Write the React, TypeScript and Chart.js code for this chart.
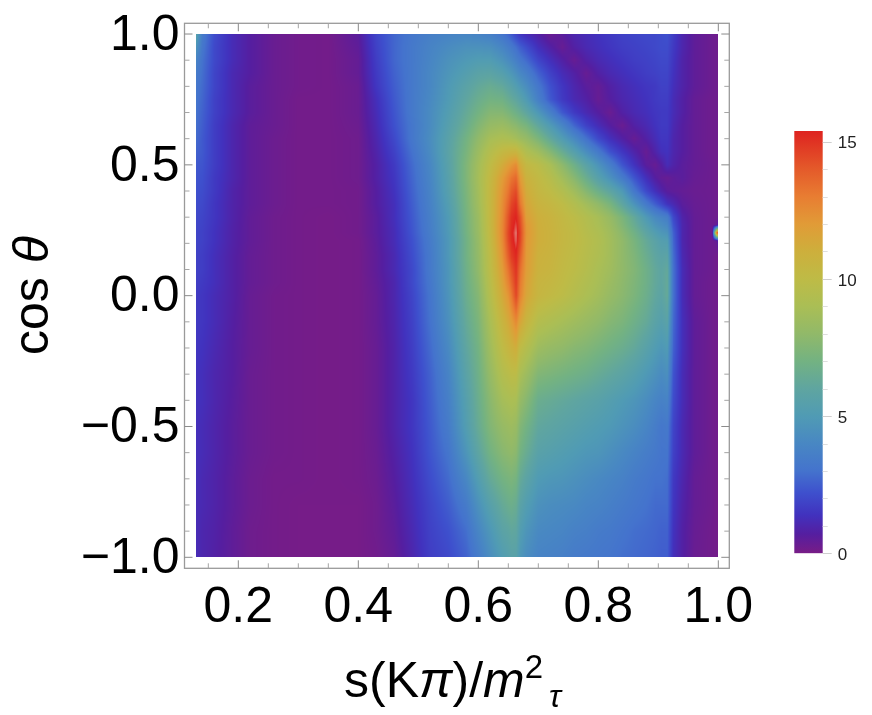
import React, { useEffect, useRef } from "react";
import { Chart, registerables } from "chart.js";

Chart.register(...registerables);

const SANS = '"Liberation Sans", Arial, sans-serif';

const sValues = [
  0.13, 0.14, 0.16, 0.19, 0.22, 0.26, 0.3, 0.35, 0.4,
  0.43, 0.46, 0.49, 0.52, 0.55, 0.58, 0.6, 0.62, 0.64, 0.65, 0.655, 0.663, 0.67, 0.68,
  0.7, 0.72, 0.74, 0.76, 0.78, 0.8, 0.82, 0.84, 0.86, 0.88, 0.895,
  0.905, 0.915, 0.925, 0.94, 0.96, 0.99, 0.997, 1.0,
];
const cosValues = [
  1, 0.95, 0.9, 0.85, 0.8, 0.75, 0.7, 0.65, 0.6, 0.55, 0.5, 0.45, 0.4, 0.35, 0.3, 0.27, 0.24, 0.21, 0.15, 0.1, 0.05, 0,
  -0.1, -0.2, -0.3, -0.4, -0.5, -0.6, -0.7, -0.8, -0.9, -1,
];
const intensityRows = [
  [5.5,3.4,2.1,1.2,.7,.3,.15,.1,.6, 1.9,2.7,3.2,3.6,3.8,3.9,3.8,3.6,3.1,2.7,2.4,1.9,1.5,1.2, .8,.3,.6,1,1.2,1.4,1.6,1.8,1.9,2,2, 2.1,2.2,1.7,1,.5,.25,.2,.2],
  [4.6,3.2,2,1.2,.7,.3,.15,.1,.5, 1.8,2.7,3.3,3.8,4.2,4.5,4.5,4.4,3.9,3.5,3.3,2.9,2.5,2.1, 1.3,.8,.35,.8,1.1,1.3,1.5,1.7,1.8,1.9,2, 2.1,2.1,1.6,1,.5,.25,.2,.2],
  [3.8,3,2,1.2,.7,.3,.15,.1,.4, 1.7,2.7,3.3,3.9,4.5,4.9,5.1,5.1,4.6,4.2,4,3.6,3.2,2.8, 1.9,1.3,.8,.35,.8,1.1,1.3,1.5,1.7,1.8,1.9, 2,2,1.5,.9,.5,.25,.2,.2],
  [3.4,2.9,1.9,1.1,.7,.3,.15,.1,.4, 1.6,2.6,3.3,4,4.7,5.3,5.7,5.8,5.4,5,4.8,4.4,4,3.6, 2.6,1.8,1.2,.8,.35,.8,1.1,1.3,1.5,1.7,1.8, 1.9,1.9,1.4,.9,.5,.25,.2,.2],
  [3.2,2.8,1.9,1.1,.6,.3,.15,.1,.3, 1.5,2.5,3.3,4,4.9,5.7,6.2,6.5,6.2,5.8,5.6,5.2,4.8,4.3, 3.2,2.2,1.5,1,.6,.4,.8,1.1,1.3,1.5,1.6, 1.8,1.8,1.3,.9,.5,.25,.2,.2],
  [3.1,2.7,1.8,1.1,.6,.3,.1,.1,.3, 1.3,2.4,3.3,4.1,5,6,6.6,7,6.9,6.5,6.3,6,5.6,5, 3.6,2.4,1.6,1.1,.8,.35,.7,1,1.2,1.4,1.6, 1.7,1.7,1.2,.8,.4,.2,.2,.2],
  [3,2.6,1.8,1.1,.6,.3,.1,.1,.3, 1.2,2.3,3.3,4.2,5.2,6.3,7,7.6,7.6,7.3,7.1,6.8,6.5,6, 4.8,3.6,2.4,1.6,1.1,.7,.3,.8,1.1,1.3,1.5, 1.6,1.6,1.2,.8,.4,.2,.2,.2],
  [2.9,2.5,1.7,1,.5,.3,.1,.1,.25, 1.1,2.2,3.2,4.2,5.4,6.6,7.5,8.2,8.4,8.2,8,7.8,7.5,7.2, 6.1,5,3.9,2.7,1.8,1.2,.7,.3,.8,1.1,1.4, 1.6,1.6,1.1,.7,.4,.2,.2,.2],
  [2.8,2.4,1.7,1,.5,.25,.1,.1,.2, 1,2,3.2,4.3,5.6,7,8,8.9,9.2,9.1,9,8.8,8.5,8.2, 7.3,6.2,5.1,4.1,3,2,1.3,.8,.35,.8,1.2, 1.5,1.5,1,.7,.4,.2,.2,.2],
  [2.6,2.4,1.7,1,.5,.25,.1,.1,.2, .9,1.8,3,4.2,5.7,7.2,8.4,9.5,10.3,10.5,10.6,10.6,10,9.3, 8.6,7.6,6.5,5.4,4.3,3.3,2.2,1.5,.9,.35,.9, 1.3,1.4,1,.7,.4,.2,.2,.2],
  [2.4,2.3,1.7,1,.5,.25,.1,.1,.2, .8,1.6,2.8,4,5.6,7.4,8.7,10,11.2,11.8,12.1,12.5,11.2,10.3, 9.8,9,7.9,6.8,5.7,4.6,3.5,2.3,1.4,.6,.35, .7,1.2,.9,.6,.4,.25,.2,.2],
  [2.3,2.2,1.6,1,.5,.25,.1,.1,.2, .8,1.5,2.7,3.9,5.5,7.4,8.8,10.3,11.9,12.7,13.2,13.6,12,10.8, 10.2,9.6,8.7,7.7,6.6,5.5,4.5,3.4,2.3,1.3,.7, .45,.35,.5,.6,.35,.25,.2,.2],
  [2.2,2.1,1.6,.9,.5,.25,.1,.1,.15, .7,1.4,2.6,3.8,5.4,7.3,8.7,10.4,12.2,13.2,13.9,14.4,12.6,11.2, 10.4,10,9.4,8.6,7.6,6.7,5.9,4.9,3.2,2,1.3, .9,.6,.5,.4,.3,.25,.2,.2],
  [2.1,2,1.5,.9,.5,.25,.1,.1,.15, .7,1.3,2.5,3.7,5.2,7.2,8.6,10.4,12.4,13.7,14.5,15,13.2,11.5, 10.7,10.4,10,9.4,8.7,8,7.2,6,4.6,3.3,2.5, 2,1.4,1.1,.6,.35,.25,.2,.2],
  [2,1.9,1.5,.9,.45,.2,.1,.05,.15, .6,1.3,2.4,3.6,5,7.1,8.4,10.4,12.5,14.2,15,15.4,14.2,11.8, 11,10.7,10.3,9.9,9.4,8.9,8.2,7.3,6.2,4.9,4.1, 3.8,3.5,2,.9,.4,.25,.2,.3],
  [1.95,1.85,1.45,.87,.45,.2,.1,.05,.15, .6,1.25,2.35,3.55,4.95,7.05,8.35,10.35,12.6,14.3,15.1,15.6,14.4,12.1, 11.05,10.75,10.35,10,9.5,9,8.4,7.5,6.5,5.4,4.6, 4.3,4,2.3,1,.4,.25,.4,1],
  [1.9,1.8,1.4,.85,.45,.2,.1,.05,.15, .6,1.2,2.3,3.5,4.9,7,8.3,10.3,12.6,14.5,15.2,15.8,14.6,12.2, 11.1,10.8,10.4,10.1,9.6,9.2,8.6,7.8,6.9,5.9,5.2, 4.8,4.6,2.6,1,.4,.25,13,15],
  [1.9,1.8,1.4,.85,.45,.2,.1,.05,.1, .55,1.2,2.2,3.4,4.8,6.9,8.2,10.2,12.5,14.4,15.1,15.7,14.5,12.1, 11.1,10.8,10.4,10.1,9.7,9.3,8.7,8,7.2,6.3,5.7, 5.3,5.2,2.7,1,.4,.25,.4,1],
  [1.8,1.7,1.3,.8,.4,.2,.1,.05,.1, .5,1.1,2.1,3.3,4.8,6.9,8.1,10,12.2,13.9,14.7,15.3,13.9,12, 10.9,10.7,10.3,10,9.6,9.2,8.7,8,7.4,6.6,6, 5.7,5.8,2.9,1.1,.4,.25,.15,.15],
  [1.8,1.7,1.3,.8,.4,.2,.1,.05,.1, .5,1.1,2,3.3,4.7,6.8,8,9.9,11.9,13.3,14.1,15,13.4,11.9, 10.8,10.6,10.2,9.9,9.5,9,8.6,8,7.5,6.8,6.2, 5.9,6.2,3,1.2,.4,.25,.15,.15],
  [1.7,1.6,1.3,.8,.4,.2,.1,.05,.1, .45,1,2,3.2,4.7,6.7,7.8,9.7,11.6,12.8,13.6,14.8,13.1,11.7, 10.6,10.4,10.1,9.7,9.3,8.9,8.4,7.9,7.4,6.8,6.2, 5.9,6.3,3,1.2,.4,.2,.15,.15],
  [1.6,1.5,1.2,.8,.35,.15,.1,.05,.1, .4,1,1.9,3.1,4.6,6.6,7.6,9.5,11.3,12.2,13,14.5,12.8,11.5, 10.5,10.2,9.9,9.5,9.1,8.7,8.2,7.8,7.3,6.7,6.1, 5.8,6.3,3,1.2,.4,.2,.15,.15],
  [1.6,1.5,1.2,.75,.35,.15,.1,.05,.1, .4,.95,1.8,3,4.4,6.3,7.3,9,10.6,11.3,11.8,12.6,11.5,10.6, 9.5,9.2,8.9,8.6,8.3,8,7.6,7.3,6.8,6.3,5.7, 5.4,5.7,2.8,1.3,.5,.2,.15,.15],
  [1.5,1.4,1.1,.7,.35,.15,.1,.05,.1, .35,.9,1.7,2.8,4.1,6,7,8.6,10,10.5,10.8,11.1,10,9.5, 8.5,8.2,8,7.7,7.5,7.2,6.9,6.6,6.2,5.6,5.1, 4.8,5,2.6,1.3,.5,.2,.15,.15],
  [1.4,1.3,1,.7,.3,.15,.1,.05,.1, .35,.9,1.6,2.6,3.8,5.7,6.8,8.2,9.4,9.7,9.9,9.9,9,8.5, 7.5,7.3,7.1,6.9,6.7,6.4,6.1,5.8,5.4,4.9,4.5, 4.2,4.4,2.3,1.2,.5,.2,.15,.15],
  [1.4,1.3,1,.65,.3,.15,.1,.05,.1, .35,.9,1.5,2.5,3.6,5.4,6.6,7.8,8.8,9,9.1,9,8.2,7.7, 6.6,6.4,6.2,6,5.8,5.6,5.3,5,4.7,4.3,3.9, 3.7,3.8,2.1,1.2,.5,.2,.15,.15],
  [1.3,1.2,.95,.6,.3,.15,.1,.05,.1, .35,.9,1.5,2.4,3.4,5.2,6.4,7.5,8.2,8.4,8.5,8.3,7.5,7, 6.1,5.9,5.7,5.5,5.3,5.1,4.9,4.6,4.3,3.9,3.5, 3.2,3.3,1.9,1.1,.5,.2,.15,.15],
  [1.3,1.2,.95,.6,.3,.15,.1,.05,.1, .3,.8,1.4,2.3,3.1,4.7,5.9,7,7.7,7.9,8,7.8,7,6.5, 5.6,5.4,5.2,5,4.8,4.7,4.4,4.1,3.8,3.5,3.3, 3.1,3.1,1.8,1.1,.5,.2,.15,.15],
  [1.3,1.1,.9,.55,.25,.1,.1,.05,.1, .25,.7,1.3,2.1,2.8,4,5.2,6.3,7,7.2,7.3,7.1,6.3,5.8, 5,4.8,4.7,4.5,4.3,4.1,3.9,3.7,3.4,3.2,3, 3,2.9,1.6,1,.4,.2,.15,.1],
  [1.2,1.1,.9,.55,.25,.1,.05,.05,.05, .2,.6,1.2,1.9,2.5,3.4,4.5,5.5,6.3,6.6,6.7,6.5,5.7,5.2, 4.5,4.3,4.2,4.1,3.9,3.8,3.6,3.4,3.2,3,2.8, 2.8,2.8,1.5,.9,.4,.2,.1,.1],
  [1.2,1,.85,.5,.2,.1,.05,.05,.05, .2,.5,1.1,1.8,2.2,2.9,3.9,4.8,5.7,5.9,6.1,6,5.2,4.7, 4.1,4,3.9,3.7,3.6,3.4,3.3,3.1,2.9,2.8,2.7, 2.6,2.6,1.4,.8,.35,.15,.1,.1],
  [1.2,1,.8,.5,.2,.1,.05,.05,.05, .15,.4,1,1.7,2,2.6,3.4,4.3,5.1,5.4,5.6,5.6,4.8,4.3, 3.8,3.7,3.6,3.4,3.3,3.2,3.1,2.9,2.8,2.7,2.6, 2.5,2.5,1.3,.8,.3,.15,.1,.1],
];

const xTicks = [0.2, 0.4, 0.6, 0.8, 1.0];
const xMinorTicks = [0.15, 0.25, 0.3, 0.35, 0.45, 0.5, 0.55, 0.65, 0.7, 0.75, 0.85, 0.9, 0.95];
const yTicks = [-1, -0.5, 0, 0.5, 1];
const yMinorTicks = [-0.9, -0.8, -0.7, -0.6, -0.4, -0.3, -0.2, -0.1, 0.1, 0.2, 0.3, 0.4, 0.6, 0.7, 0.8, 0.9];
const barTicks = [0, 5, 10, 15];
const barMinorTicks = [1, 2, 3, 4, 6, 7, 8, 9, 11, 12, 13, 14];
const barMax = 15.39;

const colorValues = [0, 0.7, 1.4, 2.2, 3, 4, 5, 6, 7, 8, 9, 10, 11, 12, 13, 14, 15.39, 15.8];
const colorRgb = [
  [120, 28, 134], [85, 30, 160], [65, 50, 190], [62, 80, 205], [68, 115, 205], [72, 135, 195],
  [80, 155, 180], [95, 165, 160], [115, 178, 130], [145, 185, 105], [170, 190, 85], [190, 187, 70],
  [205, 175, 60], [225, 155, 55], [232, 125, 50], [228, 90, 42], [222, 35, 32], [228, 130, 120],
];

function findSegment(list: number[], v: number, descending = false): [number, number] {
  const n = list.length;
  for (let i = 0; i < n - 1; i++) {
    const a = list[i], b = list[i + 1];
    if (descending ? v >= b : v <= b) return [i, (v - a) / (b - a)];
  }
  return [n - 2, 1];
}

function colorFor(v: number): number[] {
  const [i, t0] = findSegment(colorValues, v);
  const t = Math.max(0, Math.min(1, t0));
  return colorRgb[i].map((c, k) => c + (colorRgb[i + 1][k] - c) * t);
}

const heatPlugin = {
  id: "heat",
  beforeDatasetsDraw(chart: any) {
    const { ctx, scales } = chart;
    const xs = scales.x, ys = scales.y;
    const x0 = Math.round(xs.getPixelForValue(sValues[0]));
    const x1 = Math.round(xs.getPixelForValue(sValues[sValues.length - 1]));
    const y0 = Math.round(ys.getPixelForValue(cosValues[0]));
    const y1 = Math.round(ys.getPixelForValue(cosValues[cosValues.length - 1]));
    const w = x1 - x0, h = y1 - y0;
    const img = ctx.createImageData(w, h);
    for (let py = 0; py < h; py++) {
      const [r, tr] = findSegment(cosValues, ys.getValueForPixel(y0 + py + 0.5), true);
      const rowA = intensityRows[r], rowB = intensityRows[r + 1];
      for (let px = 0; px < w; px++) {
        const [c, tc] = findSegment(sValues, xs.getValueForPixel(x0 + px + 0.5));
        const a = rowA[c] + (rowA[c + 1] - rowA[c]) * tc;
        const b = rowB[c] + (rowB[c + 1] - rowB[c]) * tc;
        const rgb = colorFor(a + (b - a) * tr);
        const o = (py * w + px) * 4;
        img.data[o] = rgb[0];
        img.data[o + 1] = rgb[1];
        img.data[o + 2] = rgb[2];
        img.data[o + 3] = 255;
      }
    }
    ctx.putImageData(img, x0, y0);
  },
};

const framePlugin = {
  id: "frame",
  afterDatasetsDraw(chart: any) {
    const { ctx, chartArea: a, scales } = chart;
    ctx.save();
    ctx.strokeStyle = "#9a9a9a";
    ctx.lineWidth = 1.3;
    ctx.strokeRect(a.left, a.top, a.right - a.left, a.bottom - a.top);
    ctx.lineWidth = 1;
    const mark = (x1: number, y1: number, x2: number, y2: number) => {
      ctx.beginPath();
      ctx.moveTo(x1, y1);
      ctx.lineTo(x2, y2);
      ctx.stroke();
    };
    const drawX = (v: number, len: number) => {
      const p = scales.x.getPixelForValue(v);
      mark(p, a.top, p, a.top + len);
      mark(p, a.bottom, p, a.bottom - len);
    };
    const drawY = (v: number, len: number) => {
      const p = scales.y.getPixelForValue(v);
      mark(a.left, p, a.left + len, p);
      mark(a.right, p, a.right - len, p);
    };
    ctx.strokeStyle = "#8a8a8a";
    xTicks.forEach((v) => drawX(v, 8));
    yTicks.forEach((v) => drawY(v, 8));
    ctx.strokeStyle = "#a5a5a5";
    xMinorTicks.forEach((v) => drawX(v, 5));
    yMinorTicks.forEach((v) => drawY(v, 5));
    ctx.restore();
  },
  afterDraw(chart: any) {
    const { ctx } = chart;
    ctx.save();
    ctx.fillStyle = "#000";
    ctx.textBaseline = "alphabetic";
    const put = (text: string, x: number, y: number, font: string) => {
      ctx.font = font;
      ctx.fillText(text, x, y);
      return x + ctx.measureText(text).width;
    };
    const reg = `50px ${SANS}`;
    const ita = `italic 50px ${SANS}`;
    let x = put("s(K", 344, 697, reg);
    x = put("π", x, 697, ita);
    x = put(")/", x, 697, reg);
    x = put("m", x, 697, ita);
    x = put("2", x, 678, `33px ${SANS}`);
    put("τ", x + 6, 707, `italic 32px ${SANS}`);
    ctx.translate(48, 355);
    ctx.rotate(-Math.PI / 2);
    const cx = put("cos ", 0, 0, reg);
    put("θ", cx, 0, ita);
    ctx.restore();
  },
};

const barPlugin = {
  id: "barTicks",
  afterDatasetsDraw(chart: any) {
    const { ctx, chartArea: a, scales } = chart;
    ctx.save();
    ctx.lineWidth = 1;
    const draw = (v: number, len: number, color: string) => {
      const p = Math.round(scales.y.getPixelForValue(v)) + 0.5;
      ctx.strokeStyle = color;
      ctx.beginPath();
      ctx.moveTo(a.right, p);
      ctx.lineTo(a.right + len, p);
      ctx.stroke();
    };
    barTicks.forEach((v) => draw(v, 9, "#cfcfcf"));
    barMinorTicks.forEach((v) => draw(v, 5, "#dedede"));
    ctx.restore();
  },
};

const noAxisPadding = (s: any) => {
  s.paddingTop = 0;
  s.paddingBottom = 0;
  s.paddingLeft = 0;
  s.paddingRight = 0;
};

export default function App() {
  const mainRef = useRef<HTMLCanvasElement>(null);
  const barRef = useRef<HTMLCanvasElement>(null);

  useEffect(() => {
    const points: { x: number; y: number; v: number }[] = [];
    cosValues.forEach((c, r) => sValues.forEach((s, i) => points.push({ x: s, y: c, v: intensityRows[r][i] })));

    const main = new Chart(mainRef.current!, {
      type: "scatter",
      data: { datasets: [{ label: "intensity", data: points, pointRadius: 0 }] },
      options: {
        animation: false,
        responsive: false,
        layout: { padding: { left: 0, right: 142.7, top: 23.3, bottom: 0 } },
        plugins: { legend: { display: false }, tooltip: { enabled: false } },
        scales: {
          x: {
            type: "linear",
            min: 0.1103,
            max: 1.0183,
            grid: { display: false, drawTicks: false },
            border: { display: false },
            afterFit: (s: any) => { s.height = 146.7; noAxisPadding(s); },
            afterBuildTicks: (s: any) => { s.ticks = xTicks.map((value) => ({ value })); },
            ticks: {
              autoSkip: false,
              maxRotation: 0,
              padding: 10,
              color: "#000",
              font: { family: SANS, size: 50 },
              callback: (v: any) => Number(v).toFixed(1),
            },
          },
          y: {
            type: "linear",
            min: -1.042,
            max: 1.041,
            grid: { display: false, drawTicks: false },
            border: { display: false },
            afterFit: (s: any) => { s.width = 184.5; noAxisPadding(s); },
            afterBuildTicks: (s: any) => { s.ticks = yTicks.map((value) => ({ value })); },
            ticks: {
              autoSkip: false,
              padding: 5,
              labelOffset: 2,
              color: "#000",
              font: { family: SANS, size: 50 },
              callback: (v: any) => (Number(v) < 0 ? "\u2212" : "") + Math.abs(Number(v)).toFixed(1),
            },
          },
        },
      },
      plugins: [heatPlugin, framePlugin],
    } as any);

    const bar = new Chart(barRef.current!, {
      type: "bar",
      data: {
        labels: ["colorbar"],
        datasets: [
          {
            data: [[0, barMax]],
            barPercentage: 1,
            categoryPercentage: 1,
            backgroundColor: (c: any) => {
              const { ctx, scales } = c.chart;
              const p0 = scales.y ? scales.y.getPixelForValue(0) : NaN;
              const p1 = scales.y ? scales.y.getPixelForValue(barMax) : NaN;
              if (!Number.isFinite(p0) || !Number.isFinite(p1)) return "#888";
              const g = ctx.createLinearGradient(0, p0, 0, p1);
              colorValues.forEach((v, i) => {
                if (v <= barMax) g.addColorStop(v / barMax, `rgb(${colorRgb[i].join(",")})`);
              });
              return g;
            },
          },
        ],
      },
      options: {
        animation: false,
        responsive: false,
        layout: { padding: { left: 14.3, right: 0, top: 11, bottom: 0 } },
        plugins: { legend: { display: false }, tooltip: { enabled: false } },
        scales: {
          x: {
            display: true,
            grid: { display: false, drawTicks: false },
            border: { display: false },
            ticks: { display: false },
            afterFit: (s: any) => { s.height = 16.7; noAxisPadding(s); },
          },
          y: {
            position: "right",
            min: 0,
            max: barMax,
            grid: { display: false, drawTicks: false },
            border: { display: false },
            afterFit: (s: any) => { s.width = 49.3; noAxisPadding(s); },
            afterBuildTicks: (s: any) => { s.ticks = barTicks.map((value) => ({ value })); },
            ticks: {
              padding: 15,
              labelOffset: 2,
              color: "#222",
              font: { family: SANS, size: 17 },
            },
          },
        },
      },
      plugins: [barPlugin],
    } as any);

    return () => {
      main.destroy();
      bar.destroy();
    };
  }, []);

  return (
    <div style={{ position: "absolute", left: 0, top: 0, width: 872, height: 715 }}>
      <canvas ref={mainRef} width={872} height={715} style={{ position: "absolute", left: 0, top: 0 }} />
      <canvas ref={barRef} width={92} height={450} style={{ position: "absolute", left: 780, top: 120 }} />
    </div>
  );
}
